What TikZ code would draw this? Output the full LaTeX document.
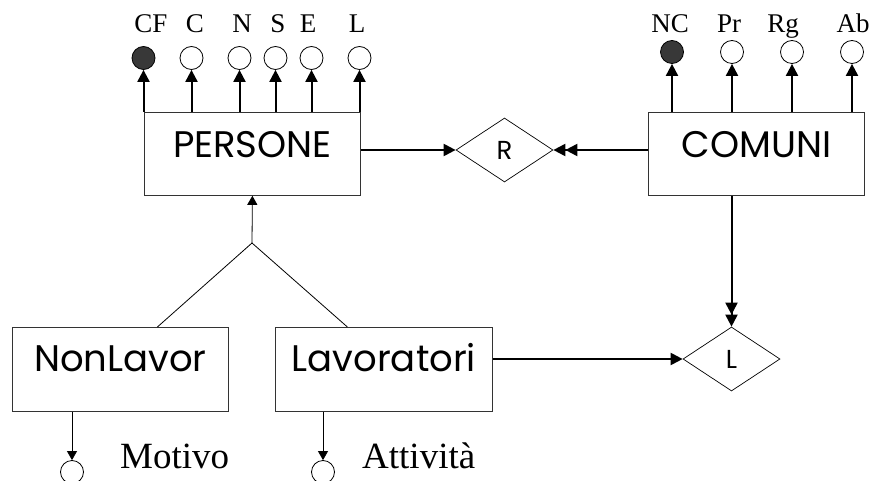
\documentclass[tikz,border=0pt]{standalone}
\usepackage{fontspec}
\setmainfont{Liberation Serif}
\newfontfamily\gothic{Poppins}
\usetikzlibrary{arrows.meta,shapes.geometric,positioning}

\tikzset{
  entity/.style={draw=black!80, line width=0.8pt, rectangle, inner sep=0pt,
    minimum width=216pt, text height=45pt, text depth=38pt, anchor=north west,
    font=\gothic\fontsize{37}{37}\selectfont},
  relation/.style={draw, line width=0.7pt, diamond, inner sep=0pt,
    minimum width=97pt, minimum height=64pt, font=\gothic\fontsize{26}{26}\selectfont},
  attrib/.style={circle, draw, line width=0.8pt, minimum size=23pt, inner sep=0pt, fill=white},
  keyattrib/.style={attrib, fill=black!78},
  attrname/.style={anchor=base, inner sep=0pt, font=\fontsize{27}{27}\selectfont},
  bigname/.style={anchor=base west, inner sep=0pt, font=\fontsize{37}{37}\selectfont},
  thick link/.style={line width=2pt, -{Triangle[length=12pt,width=12pt]}},
  double link/.style={line width=2pt, -{Triangle[length=12pt,width=12pt]Triangle[length=12pt,width=12pt]}},
  thin link/.style={line width=0.8pt, -{Triangle[length=9pt,width=10pt]}}
}

\begin{document}
\begin{tikzpicture}[x=1pt, y=-1pt]
  \useasboundingbox (0,0) rectangle (880,481);
  \clip (0,0) rectangle (880,481);

  % entities
  \node[entity] (persone) at (144,112) {PERSONE};
  \node[entity] (comuni) at (648,112) {COMUNI};
  \node[entity, text height=44pt, text depth=40pt] (nonlavor) at (12,327) {NonLavor};
  \node[entity, text height=44pt, text depth=40pt, minimum width=217pt] (lavoratori) at (275,327) {Lavoratori};

  % relationships
  \node[relation] (relR) at (504.5,150) {R};
  \node[relation] (relL) at (731.5,359) {L};

  % attributes of PERSONE
  \node[keyattrib] (cf) at (143.5,58) {};
  \node[attrib] (c) at (191.5,58) {};
  \node[attrib] (n) at (239.5,58) {};
  \node[attrib] (s) at (275.5,58) {};
  \node[attrib] (e) at (311.5,58) {};
  \node[attrib] (l) at (359.5,58) {};
  \node[attrname] (cfname) at (151,33) {CF};
  \node[attrname] (cname) at (195,33) {C};
  \node[attrname] (nname) at (242,33) {N};
  \node[attrname] (sname) at (278,33) {S};
  \node[attrname] (ename) at (308,33) {E};
  \node[attrname] (lname) at (357,33) {L};
  \foreach \a in {cf,c,n,s,e,l}
    \draw[thick link] (\a |- persone.north) -- (\a);

  % attributes of COMUNI
  \node[keyattrib] (nc) at (672,52) {};
  \node[attrib] (pr) at (732,52) {};
  \node[attrib] (rg) at (792,52) {};
  \node[attrib] (ab) at (852,52) {};
  \node[attrname] (ncname) at (670,33) {NC};
  \node[attrname] (prname) at (729,33) {Pr};
  \node[attrname] (rgname) at (783,33) {Rg};
  \node[attrname] (abname) at (853,33) {Ab};
  \foreach \a in {nc,pr,rg,ab}
    \draw[thick link] (\a |- comuni.north) -- (\a);

  % relationship links
  \draw[thick link] (relR.west -| persone.east) -- (relR.west);
  \draw[double link] (relR.east -| comuni.west) -- (relR.east);
  \draw[double link] (relL.north |- comuni.south) -- (relL.north);
  \draw[thick link] (relL.west -| lavoratori.east) -- (relL.west);

  % generalisation
  \coordinate (isa) at (252,243);
  \draw[line width=0.8pt] ([xshift=37pt]nonlavor.north) -- (isa)
    -- ([xshift=-36.5pt]lavoratori.north);
  \draw[thin link] (isa) -- (persone.south);

  % attributes of the subclasses
  \node[attrib] (motivo) at (72,472) {};
  \node[attrib] (attivita) at (323,472) {};
  \node[bigname] (motivoname) at (120,468) {Motivo};
  \node[bigname] (attivitaname) at (362,468) {Attività};
  \draw[thin link] (motivo |- nonlavor.south) -- (motivo);
  \draw[thin link] (attivita |- lavoratori.south) -- (attivita);
\end{tikzpicture}
\end{document}
